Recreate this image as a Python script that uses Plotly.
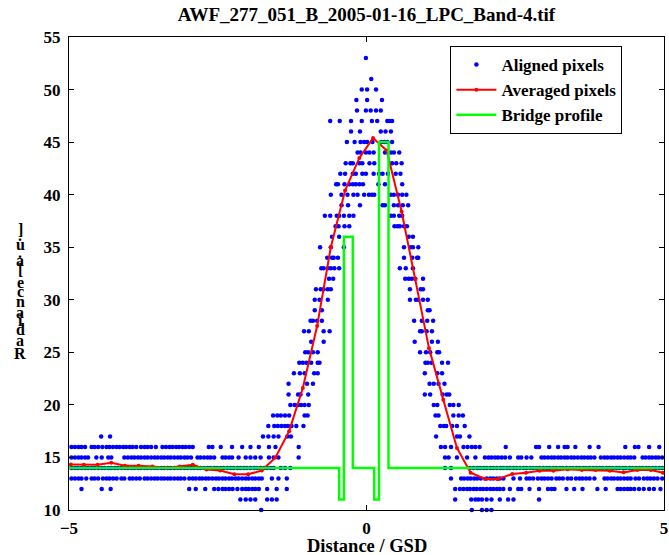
import plotly.graph_objects as go

# ---------------------------------------------------------------------------
# Aligned pixel samples: distance (GSD) of every sample, grouped by its
# integer radiance level.
# ---------------------------------------------------------------------------
dots_at_10 = [-1.77, 1.77, 1.94, 2.02, 2.10]
dots_at_11 = [-2.12, -2.03, -1.95, -1.87, -1.67, -1.59, -1.51,
              1.49, 1.76, 1.83, 1.88, 1.94, 2.02, 2.10, 2.24, 2.38, 2.47, 2.90]
dots_at_12 = [-4.79, -4.45, -4.30, -2.98, -2.87, -2.71, -2.56, -2.49, -2.42, -2.37,
              -2.31, -2.25, -2.17, -2.09, -2.03, -1.98, -1.92, -1.87, -1.81, -1.67,
              -1.51, -1.34,
              1.49, 1.57, 1.63, 1.69, 1.74, 1.80, 1.85, 1.91, 1.96, 2.02, 2.08, 2.13,
              2.19, 2.24, 2.30, 2.41, 2.55, 2.60, 2.74, 2.90, 3.05, 3.11, 3.16, 3.36,
              3.49, 3.63, 3.88, 4.02, 4.22, 4.27, 4.33, 4.39, 4.44, 4.50, 4.58, 4.66,
              4.75, 4.83, 4.94]
dots_at_13 = [-4.96, -4.90, -4.84, -4.79, -4.71, -4.62, -4.57, -4.51, -4.43, -4.37,
              -4.32, -4.26, -4.20, -4.12, -4.07, -3.98, -3.93, -3.87, -3.81, -3.73,
              -3.68, -3.62, -3.56, -3.51, -3.45, -3.40, -3.34, -3.29, -3.23, -3.17,
              -3.12, -3.06, -2.98, -2.92, -2.87, -2.81, -2.76, -2.70, -2.65, -2.59,
              -2.53, -2.48, -2.42, -2.37, -2.31, -2.26, -2.20, -2.15, -2.09, -2.03,
              -1.98, -1.92, -1.87, -1.81, -1.76, -1.59, -1.48, -1.34,
              1.42, 1.59, 1.64, 1.70, 1.75, 1.81, 1.86, 1.92, 2.02, 2.08, 2.13, 2.19,
              2.24, 2.30, 2.47, 2.58, 2.69, 2.74, 2.80, 2.88, 2.94, 2.99, 3.05, 3.11,
              3.19, 3.24, 3.30, 3.38, 3.44, 3.52, 3.58, 3.63, 3.69, 3.75, 3.83, 4.00,
              4.05, 4.11, 4.16, 4.22, 4.27, 4.33, 4.39, 4.44, 4.52, 4.58, 4.66, 4.72,
              4.77, 4.83, 4.89, 4.97]
dots_at_14 = [-4.96, -4.90, -4.85, -4.79, -4.73, -4.68, -4.62, -4.57, -4.51, -4.45,
              -4.40, -4.34, -4.29, -4.23, -4.18, -4.12, -4.06, -4.01, -3.95, -3.90,
              -3.84, -3.79, -3.73, -3.68, -3.62, -3.56, -3.51, -3.45, -3.40, -3.34,
              -3.29, -3.23, -3.17, -3.12, -3.06, -3.01, -2.95, -2.90, -2.84, -2.79,
              -2.73, -2.67, -2.62, -2.56, -2.51, -2.45, -2.40, -2.34, -2.28, -2.23,
              -2.17, -2.12, -2.06, -2.01, -1.95, -1.89, -1.84, -1.78, -1.72, -1.67,
              -1.61, -1.56, -1.44, -1.37, -1.28,
              1.32, 1.42, 1.74, 1.80, 1.86, 1.91, 1.97, 2.02, 2.08, 2.13, 2.19, 2.25,
              2.30, 2.36, 2.41, 2.47, 2.52, 2.58, 2.64, 2.69, 2.75, 2.80, 2.86, 2.91,
              2.97, 3.03, 3.08, 3.14, 3.19, 3.25, 3.30, 3.36, 3.42, 3.47, 3.53, 3.58,
              3.64, 3.69, 3.75, 3.81, 3.86, 3.92, 3.97, 4.03, 4.08, 4.14, 4.20, 4.25,
              4.31, 4.36, 4.42, 4.47, 4.53, 4.59, 4.64, 4.70, 4.75, 4.81, 4.86, 4.92,
              4.97]
dots_at_15 = [-4.96, -4.90, -4.84, -4.79, -4.73, -4.68, -4.54, -4.45, -4.34, -4.29,
              -4.07, -4.01, -3.95, -3.90, -3.84, -3.79, -3.73, -3.68, -3.62, -3.56,
              -3.51, -3.45, -3.40, -3.34, -3.29, -3.23, -3.17, -3.12, -3.06, -3.01,
              -2.95, -2.84, -2.79, -2.73, -2.67, -2.62, -2.56, -2.42, -2.37, -2.31,
              -2.26, -2.15, -2.03, -1.95, -1.87, -1.78, -1.64, -1.56, -1.48, -1.14,
              1.32, 1.38, 1.52, 1.69, 1.83, 1.99, 2.05, 2.10, 2.16, 2.21, 2.27, 2.33,
              2.41, 2.55, 2.60, 2.69, 2.77, 2.94, 2.99, 3.05, 3.11, 3.16, 3.22, 3.27,
              3.33, 3.38, 3.44, 3.49, 3.55, 3.61, 3.66, 3.72, 3.77, 3.83, 3.94, 4.00,
              4.05, 4.11, 4.16, 4.22, 4.27, 4.33, 4.39, 4.44, 4.50, 4.64, 4.69, 4.75,
              4.80, 4.86, 4.91, 4.97]
dots_at_16 = [-4.96, -4.90, -4.84, -4.79, -4.73, -4.62, -4.57, -4.51, -4.44, -4.37,
              -4.32, -4.26, -4.20, -4.15, -4.09, -4.04, -3.98, -3.93, -3.87, -3.79,
              -3.73, -3.68, -3.62, -3.54, -3.43, -3.37, -3.31, -3.26, -3.20, -3.15,
              -3.09, -3.04, -2.98, -2.92, -2.65, -2.59, -2.45, -2.26, -2.09, -1.95,
              -1.81, -1.64, -1.53, -1.14,
              1.25, 1.32, 1.42, 1.63, 1.70, 1.77, 1.83, 1.90, 2.34, 2.85, 2.90, 3.07,
              3.22, 3.33, 3.38, 3.51, 3.75, 3.90, 4.35, 4.51, 4.57, 4.75, 4.92]
dots_at_17 = [-4.46, -4.31, -1.74, -1.65, -1.56, -1.48, -1.33, -1.27,
              1.17, 1.52, 1.57, 1.73]
dots_at_18 = [-1.65, -1.55, -1.49, -1.43, -1.37, -1.32, -1.26, -1.18, -1.06,
              1.24, 1.30, 1.34, 1.44, 1.52, 1.65]
dots_at_19 = [-1.57, -1.50, -1.44, -1.37, -1.30, -1.04, -0.99,
              1.16, 1.21, 1.46, 1.55, 1.62]
dots_at_20 = [-1.28, -1.21, -1.15, -1.10, -1.04, -0.97,
              1.13, 1.19, 1.40, 1.46, 1.55]
dots_at_21 = [-1.31, -1.15, -1.11, -0.98, 0.98, 1.07, 1.28, 1.35, 1.39]
dots_at_22 = [-1.31, -1.00, -0.90, 1.06, 1.13, 1.21, 1.31]
dots_at_23 = [-1.22, -1.12, -1.04, -0.88, -0.82, 0.98, 1.19, 1.27]
dots_at_24 = [-1.13, -1.07, -1.01, -0.93, -0.82, -0.79, 0.99, 1.03, 1.09, 1.27, 1.37]
dots_at_25 = [-1.03, -0.98, -0.90, -0.82, 0.90, 1.00, 1.07, 1.19, 1.22]
dots_at_26 = [-0.93, -0.72, 0.81, 1.10, 1.20]
dots_at_27 = [-1.05, -0.97, -0.72, -0.62, 0.90, 0.93, 1.01, 1.10]
dots_at_28 = [-0.94, -0.90, -0.83, -0.75, 0.80, 0.93, 1.02, 1.12]
dots_at_29 = [-0.87, -0.75, 1.03, 1.06]
dots_at_30 = [-0.87, -0.79, -0.65, 0.73, 0.83, 0.87, 0.95, 1.03]
dots_at_31 = [-0.85, -0.77, -0.72, -0.65, -0.60, 0.73, 0.91, 0.95]
dots_at_32 = [-0.63, -0.56, 0.65, 0.71, 0.76, 0.82, 0.95]
dots_at_33 = [-0.76, -0.72, -0.65, -0.60, -0.54, -0.46, 0.56, 0.66, 0.78]
dots_at_34 = [-0.66, -0.58, -0.55, -0.48, 0.63, 0.77, 0.85, 0.87]
dots_at_35 = [-0.78, -0.60, -0.38, 0.63, 0.74, 0.78, 0.87]
dots_at_36 = [-0.58, -0.46, 0.71, 0.78]
dots_at_37 = [-0.52, -0.47, -0.37, -0.29, 0.47, 0.52, 0.56, 0.63, 0.68]
dots_at_38 = [-0.70, -0.61, -0.50, -0.46, -0.38, -0.29, -0.22, 0.41, 0.46, 0.55, 0.60]
dots_at_39 = [-0.42, -0.31, -0.11, 0.27, 0.31, 0.46, 0.53, 0.61, 0.70]
dots_at_40 = [-0.60, -0.42, -0.32, -0.22, -0.15, -0.04, 0.04, 0.09, 0.13,
              0.41, 0.46, 0.53, 0.60, 0.67]
dots_at_41 = [-0.51, -0.48, -0.37, -0.29, -0.23, -0.18, -0.12, -0.06, 0.20, 0.31, 0.60]
dots_at_42 = [-0.44, -0.36, -0.23, -0.18, -0.07, -0.01, 0.12, 0.21, 0.27, 0.36,
              0.49, 0.57]
dots_at_43 = [-0.35, -0.27, -0.23, -0.12, -0.07, 0.05, 0.13, 0.43, 0.50, 0.59]
dots_at_44 = [-0.15, -0.10, -0.01, 0.05, 0.12, 0.31, 0.41, 0.46, 0.55]
dots_at_45 = [-0.33, -0.20, -0.10, -0.04, 0.01, 0.10, 0.25, 0.30, 0.35, 0.43]
dots_at_46 = [-0.26, -0.11, 0.24, 0.32, 0.41]
dots_at_47 = [-0.61, -0.45, -0.26, -0.08, 0.09, 0.18, 0.35, 0.39, 0.43]
dots_at_48 = [-0.16, -0.01, 0.07, 0.16, 0.24]
dots_at_49 = [-0.17, 0.01, 0.26]
dots_at_50 = [-0.08, 0.01, 0.16]
dots_at_51 = [0.08]
dots_at_53 = [-0.01]

aligned_rows = [
    (10, dots_at_10), (11, dots_at_11), (12, dots_at_12), (13, dots_at_13),
    (14, dots_at_14), (15, dots_at_15), (16, dots_at_16), (17, dots_at_17),
    (18, dots_at_18), (19, dots_at_19), (20, dots_at_20), (21, dots_at_21),
    (22, dots_at_22), (23, dots_at_23), (24, dots_at_24), (25, dots_at_25),
    (26, dots_at_26), (27, dots_at_27), (28, dots_at_28), (29, dots_at_29),
    (30, dots_at_30), (31, dots_at_31), (32, dots_at_32), (33, dots_at_33),
    (34, dots_at_34), (35, dots_at_35), (36, dots_at_36), (37, dots_at_37),
    (38, dots_at_38), (39, dots_at_39), (40, dots_at_40), (41, dots_at_41),
    (42, dots_at_42), (43, dots_at_43), (44, dots_at_44), (45, dots_at_45),
    (46, dots_at_46), (47, dots_at_47), (48, dots_at_48), (49, dots_at_49),
    (50, dots_at_50), (51, dots_at_51), (53, dots_at_53),
]

# Bin-averaged profile
avg_x = [-4.97, -4.75, -4.52, -4.29, -4.06, -3.83, -3.60, -3.37, -3.14, -2.92,
         -2.69, -2.46, -2.22, -1.99, -1.76, -1.53, -1.30, -1.07, -0.83, -0.60,
         -0.36, -0.12, 0.11, 0.34, 0.59, 0.82, 1.05, 1.29, 1.52, 1.75,
         1.99, 2.21, 2.45, 2.68, 2.91, 3.14, 3.38, 3.62, 3.85, 4.09,
         4.32, 4.55, 4.78, 4.98]
avg_y = [14.33, 14.30, 14.30, 14.50, 14.22, 14.20, 14.15, 14.00, 14.15, 14.30,
         13.85, 13.75, 13.40, 13.40, 13.75, 15.00, 17.50, 21.60, 27.50, 35.00,
         40.40, 43.50, 45.40, 44.20, 38.40, 32.00, 25.40, 20.50, 15.90, 13.55,
         12.95, 12.95, 13.43, 13.55, 13.74, 13.74, 13.87, 13.81, 13.81, 13.74,
         13.58, 13.81, 13.81, 13.55]

# Bridge profile (step function, value holds until the next break)
bridge_x = [-5.0, -0.46, -0.38, -0.23, 0.13, 0.21, 0.37, 5.0]
bridge_y = [14, 11, 36, 14, 11, 45, 14, 14]

x_ticks = [-5, 0, 5]
y_ticks = [10, 15, 20, 25, 30, 35, 40, 45, 50, 55]

TITLE = "AWF_277_051_B_2005-01-16_LPC_Band-4.tif"
X_LABEL = "Distance / GSD"
Y_LABEL = "Radiance [a.u.]"

SERIF = "Liberation Serif, Times New Roman, serif"

aligned_x = [x for _, xs in aligned_rows for x in xs]
aligned_y = [lvl for lvl, xs in aligned_rows for _ in xs]

fig = go.Figure()
fig.add_trace(go.Scatter(
    x=aligned_x, y=aligned_y, mode="markers", name="Aligned pixels",
    marker=dict(color="#0000ff", size=4.5, line=dict(width=0)),
    cliponaxis=False,
))
fig.add_trace(go.Scatter(
    x=avg_x, y=avg_y, mode="lines+markers", name="Averaged pixels",
    line=dict(color="#ff0000", width=2),
    marker=dict(color="#ff0000", size=4),
))
fig.add_trace(go.Scatter(
    x=bridge_x, y=bridge_y, mode="lines", name="Bridge profile",
    line=dict(color="#00ff00", width=2.5, shape="hv"),
))

axis_common = dict(
    showline=True, linecolor="black", linewidth=1, mirror="allticks",
    ticks="inside", ticklen=5, tickcolor="black", showgrid=False, zeroline=False,
    ticklabeloverflow="allow",
    tickfont=dict(family=SERIF, size=17, color="black", weight="bold"),
)
fig.update_xaxes(range=[-5, 5], tickmode="array", tickvals=x_ticks,
                 ticklabelstandoff=3, **axis_common)
fig.update_yaxes(range=[10, 55], tickmode="array", tickvals=y_ticks,
                 ticklabelstandoff=4, **axis_common)

fig.update_layout(
    width=669, height=555,
    margin=dict(l=69, r=1, t=37, b=45, pad=0),
    paper_bgcolor="white", plot_bgcolor="white",
    font=dict(family=SERIF, size=16, color="black", weight="bold"),
    title=dict(text=TITLE, x=0.5, xref="paper", xanchor="center",
               y=1 - 14 / 555, yanchor="middle",
               font=dict(family=SERIF, size=19, color="black", weight="bold")),
    legend=dict(x=0.641, y=0.981, xanchor="left", yanchor="top",
                bordercolor="black", borderwidth=1, bgcolor="white",
                font=dict(family=SERIF, size=17, color="black", weight="bold"),
                tracegroupgap=0, itemwidth=40),
    showlegend=True,
)

# x-axis label
fig.add_annotation(text=X_LABEL, xref="paper", yref="paper", x=0.5, y=0,
                   yshift=-36, xanchor="center", yanchor="middle", showarrow=False,
                   font=dict(family=SERIF, size=18.5, color="black", weight="bold"))

# y-axis label: upright glyphs stacked bottom-to-top, advancing by glyph width
GLYPH_EM = {"R": 0.722, "a": 0.5, "d": 0.556, "i": 0.278, "n": 0.556, "c": 0.444,
            "e": 0.444, " ": 0.25, "[": 0.333, ".": 0.25, "u": 0.556, "]": 0.333}
ADVANCE_PX = 20.7
pos = 0.0
first_centre = None
for ch in Y_LABEL:
    w = GLYPH_EM.get(ch, 0.5)
    centre = pos + w / 2
    pos += w
    if first_centre is None:
        first_centre = centre
    if ch == " ":
        continue
    fig.add_annotation(text=ch, xref="paper", yref="paper", x=0, y=0,
                       xshift=-49, yshift=157 + (centre - first_centre) * ADVANCE_PX,
                       xanchor="center", yanchor="middle", showarrow=False,
                       font=dict(family=SERIF, size=16, color="black", weight="bold"))

fig.write_html("out.html")
